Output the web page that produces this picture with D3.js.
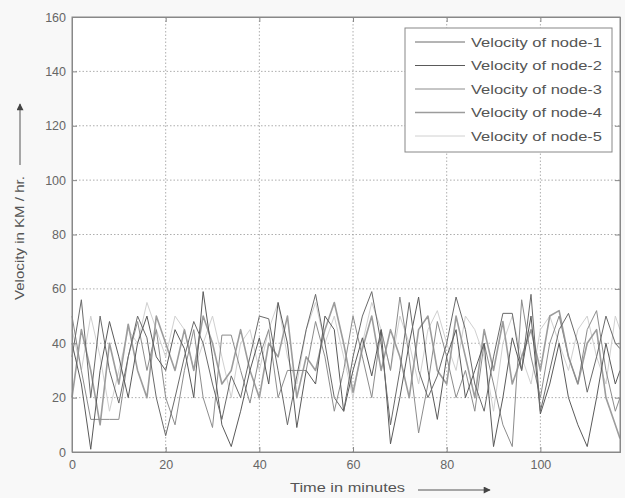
<!DOCTYPE html>
<html>
<head>
<meta charset="utf-8">
<script src="https://cdn.jsdelivr.net/npm/d3@7"></script>
<style>
  body { margin: 0; background: #f8f8f8; }
  svg { display: block; font-family: "Liberation Sans", Arial, sans-serif; }
</style>
</head>
<body>
<div id="chart"></div>
<script>
// time axis (minutes)
const times = [0,2,4,6,8,10,12,14,16,18,20,22,24,26,28,30,32,34,36,38,40,42,44,46,48,50,52,54,56,58,
  60,62,64,66,68,70,72,74,76,78,80,82,84,86,88,90,92,94,96,98,100,102,104,106,108,110,112,114,116,117];

// velocity of each node, km/hr
const node1 = [35,56,20,50,30,18,35,50,42,20,6,20,35,48,40,25,12,28,20,35,50,49,30,10,28,45,58,40,20,15,
  35,50,59,40,10,30,55,30,20,28,40,57,45,25,15,35,51,51,30,58,15,30,45,51,40,22,35,50,40,38];
const node2 = [40,25,1,30,48,35,20,40,50,35,30,45,38,20,59,35,10,2,15,30,42,25,55,40,9,30,25,50,45,15,
  30,42,28,45,3,20,40,57,30,12,35,45,20,30,40,2,20,42,30,50,14,25,40,20,10,2,20,40,25,30];
const node3 = [50,30,12,12,12,12,35,48,30,45,20,10,30,45,20,9,43,43,30,18,35,45,20,30,30,30,48,35,15,30,
  50,35,20,45,30,57,35,7,25,48,35,20,30,15,40,25,10,2,56,35,20,40,50,35,25,45,52,30,15,20];
const node4 = [20,45,30,10,40,25,47,30,20,50,40,30,45,30,50,40,25,30,45,30,20,40,35,50,20,35,30,45,55,40,
  22,38,50,30,45,35,20,45,50,30,25,50,35,20,45,30,48,25,35,45,30,50,52,35,25,40,45,20,10,5];
const node5 = [45,30,50,35,15,30,45,40,55,45,35,50,45,30,40,50,35,20,40,45,30,45,55,35,25,45,55,40,50,35,
  20,40,55,45,30,50,40,25,45,52,40,30,50,45,35,15,40,50,35,25,45,50,40,30,45,50,35,25,50,45];

const seriesNames = ["Velocity of node-1","Velocity of node-2","Velocity of node-3","Velocity of node-4","Velocity of node-5"];
const seriesValues = [node1, node2, node3, node4, node5];
const seriesColors = ["#6a6a6a", "#5a5a5a", "#8c8c8c", "#9c9c9c", "#d0d0d0"];
const seriesWidths = [1, 1, 1, 1.6, 1];

const xTicks = [0, 20, 40, 60, 80, 100];
const yTicks = [0, 20, 40, 60, 80, 100, 120, 140, 160];

const width = 625, height = 498;
const mLeft = 72, mRight = 620, mTop = 17, mBottom = 452;

const svg = d3.select('#chart').append('svg')
  .attr('width', width).attr('height', height);

const x = d3.scaleLinear().domain([0, 117]).range([mLeft, mRight]);
const y = d3.scaleLinear().domain([0, 160]).range([mBottom, mTop]);

svg.append('rect')
  .attr('x', mLeft).attr('y', mTop)
  .attr('width', mRight - mLeft).attr('height', mBottom - mTop)
  .attr('fill', '#fff');

// grid
const grid = svg.append('g').attr('stroke', '#999').attr('stroke-width', 0.8)
  .attr('stroke-dasharray', '1.5,2');
grid.selectAll('.gx').data(xTicks.slice(1)).join('line')
  .attr('x1', d => x(d)).attr('x2', d => x(d))
  .attr('y1', mTop).attr('y2', mBottom);
grid.selectAll('.gy').data(yTicks.slice(1, -1)).join('line')
  .attr('x1', mLeft).attr('x2', mRight)
  .attr('y1', d => y(d)).attr('y2', d => y(d));

// series lines
const line = d3.line()
  .x((d, i) => x(times[i]))
  .y(d => y(d));

svg.append('g').selectAll('path')
  .data(seriesValues.map((v, i) => ({ v, i })).reverse())
  .join('path')
  .attr('d', d => line(d.v))
  .attr('fill', 'none')
  .attr('stroke', d => seriesColors[d.i])
  .attr('stroke-width', d => seriesWidths[d.i])
  .attr('stroke-linejoin', 'round');

// axes
svg.append('g').attr('transform', `translate(0,${mBottom})`)
  .call(d3.axisBottom(x).tickValues(xTicks).tickSize(-5).tickPadding(8));
svg.append('g').attr('transform', `translate(${mLeft},0)`)
  .call(d3.axisLeft(y).tickValues(yTicks).tickSize(-5).tickPadding(6));
// ticks on top and right too
svg.append('g').attr('transform', `translate(0,${mTop})`)
  .call(d3.axisTop(x).tickValues(xTicks).tickSize(-5).tickFormat(''));
svg.append('g').attr('transform', `translate(${mRight},0)`)
  .call(d3.axisRight(y).tickValues(yTicks).tickSize(-5).tickFormat(''));

svg.selectAll('.domain').attr('stroke', '#888');
svg.selectAll('.tick line').attr('stroke', '#888');
svg.selectAll('.tick text').attr('fill', '#666').attr('font-size', 12.5)
  .attr('font-family', '"Liberation Sans", Arial, sans-serif');

svg.append('rect')
  .attr('x', mLeft).attr('y', mTop)
  .attr('width', mRight - mLeft).attr('height', mBottom - mTop)
  .attr('fill', 'none').attr('stroke', '#888');

// legend
const lg = svg.append('g');
lg.append('rect')
  .attr('x', 405).attr('y', 28).attr('width', 207).attr('height', 124)
  .attr('fill', '#fff').attr('stroke', '#888');
seriesNames.forEach((name, i) => {
  const ly = 42 + i * 23.5;
  lg.append('line')
    .attr('x1', 415).attr('x2', 465).attr('y1', ly).attr('y2', ly)
    .attr('stroke', seriesColors[i]).attr('stroke-width', seriesWidths[i]);
  lg.append('text')
    .attr('x', 471).attr('y', ly + 4.5)
    .attr('font-size', 13).attr('fill', '#555')
    .attr('textLength', 131).attr('lengthAdjust', 'spacingAndGlyphs')
    .text(name);
});

// axis labels with arrows
svg.append('defs').append('marker')
  .attr('id', 'arrow').attr('viewBox', '0 0 10 10')
  .attr('refX', 9).attr('refY', 5)
  .attr('markerWidth', 9).attr('markerHeight', 7)
  .attr('markerUnits', 'userSpaceOnUse')
  .attr('orient', 'auto')
  .append('path').attr('d', 'M0,0 L10,5 L0,10 z').attr('fill', '#444');

svg.append('text')
  .attr('transform', 'translate(24,238) rotate(-90)')
  .attr('text-anchor', 'middle')
  .attr('font-size', 13).attr('fill', '#555')
  .attr('textLength', 124).attr('lengthAdjust', 'spacingAndGlyphs')
  .text('Velocity in KM / hr.');
svg.append('line')
  .attr('x1', 20).attr('x2', 20).attr('y1', 165).attr('y2', 104)
  .attr('stroke', '#555').attr('marker-end', 'url(#arrow)');

svg.append('text')
  .attr('x', 290).attr('y', 492)
  .attr('font-size', 13).attr('fill', '#555')
  .attr('textLength', 115).attr('lengthAdjust', 'spacingAndGlyphs')
  .text('Time in minutes');
svg.append('line')
  .attr('x1', 418).attr('x2', 490).attr('y1', 490).attr('y2', 490)
  .attr('stroke', '#555').attr('marker-end', 'url(#arrow)');
</script>
</body>
</html>
